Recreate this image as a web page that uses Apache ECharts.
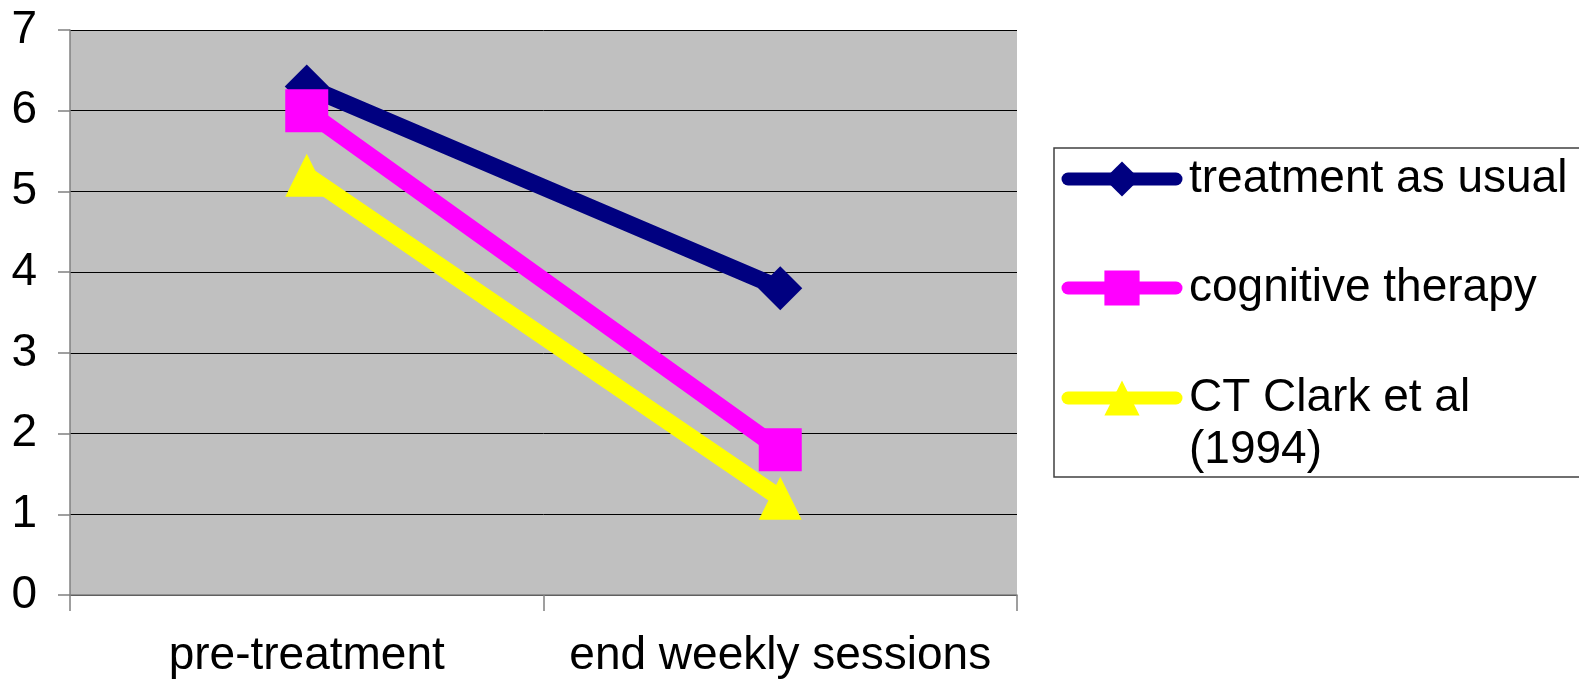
<!DOCTYPE html>
<html>
<head>
<meta charset="utf-8">
<script src="https://cdn.jsdelivr.net/npm/echarts@6/dist/echarts.min.js"></script>
<style>
  html, body { margin: 0; padding: 0; background: #fff; }
  #chart { width: 1579px; height: 681px; }
</style>
</head>
<body>
<div id="chart"></div>
<script>
// Time points on the x axis
const categories = ['pre-treatment', 'end weekly sessions'];

// Mean scores per group
const treatmentAsUsual = [6.3, 3.8];
const cognitiveTherapy = [6.0, 1.8];
const ctClark = [5.2, 1.2];

// Group labels (shown in the legend)
const seriesNames = ['treatment as usual', 'cognitive therapy', 'CT Clark et al\n(1994)'];

// Y axis range
const yMin = 0;
const yMax = 7;
const yStep = 1;

const FONT = '"Liberation Sans", Arial, Helvetica, sans-serif';
const colors = ['#000080', '#FF00FF', '#FFFF00'];
const symbols = ['diamond', 'rect', 'triangle'];
const symbolSizes = [44, 43, 43];
const seriesData = [treatmentAsUsual, cognitiveTherapy, ctClark];

const chart = echarts.init(document.getElementById('chart'));

// One legend block per series so each entry can sit at its own height
function legendFor(i, top, extra) {
  return Object.assign({
    orient: 'vertical',
    left: 1061.5,
    top: top,
    padding: 0,
    itemWidth: 108,
    itemHeight: 44,
    selectedMode: false,
    data: [{ name: seriesNames[i] }],
    lineStyle: { width: 13, cap: 'round' },
    textStyle: {
      fontFamily: FONT,
      fontSize: 46,
      color: '#000',
      padding: [0, 0, 0, 8],
      lineHeight: 44
    }
  }, extra || {});
}

chart.setOption({
  animation: false,
  backgroundColor: '#fff',
  grid: {
    left: 70,
    top: 30,
    right: 562,
    bottom: 86,
    show: true,
    backgroundColor: '#C0C0C0',
    borderWidth: 0
  },
  graphic: [{
    type: 'rect',
    shape: { x: 1054, y: 148, width: 600, height: 329 },
    style: { fill: 'transparent', stroke: '#404040', lineWidth: 1.5 },
    z: 0
  }],
  legend: [
    legendFor(0, 156),
    legendFor(1, 265),
    // first text line level with the symbol, second line below it
    legendFor(2, 320, {
      formatter: name => '\n' + name,
      textStyle: {
        fontFamily: FONT,
        fontSize: 46,
        color: '#000',
        padding: [0, 0, 0, 8],
        lineHeight: 52
      }
    })
  ],
  xAxis: {
    type: 'category',
    data: categories,
    boundaryGap: true,
    axisLine: { show: true, lineStyle: { color: '#808080', width: 1.5 } },
    axisTick: { show: true, length: 16, lineStyle: { color: '#808080', width: 1.5 } },
    axisLabel: {
      interval: 0,
      fontFamily: FONT,
      fontSize: 46,
      color: '#000',
      margin: 38
    },
    splitLine: { show: false }
  },
  yAxis: {
    type: 'value',
    min: yMin,
    max: yMax,
    interval: yStep,
    axisLine: { show: true, lineStyle: { color: '#808080', width: 1.5 } },
    axisTick: { show: true, length: 12, lineStyle: { color: '#808080', width: 1.5 } },
    axisLabel: {
      fontFamily: FONT,
      fontSize: 46,
      color: '#000',
      margin: 33
    },
    splitLine: { show: true, lineStyle: { color: '#000', width: 1 } }
  },
  series: seriesData.map((d, i) => ({
    name: seriesNames[i],
    type: 'line',
    data: d,
    symbol: symbols[i],
    symbolSize: symbolSizes[i],
    showAllSymbol: true,
    lineStyle: { color: colors[i], width: 17, cap: 'round' },
    itemStyle: { color: colors[i], borderWidth: 0 },
    emphasis: { disabled: true }
  }))
});
</script>
</body>
</html>
